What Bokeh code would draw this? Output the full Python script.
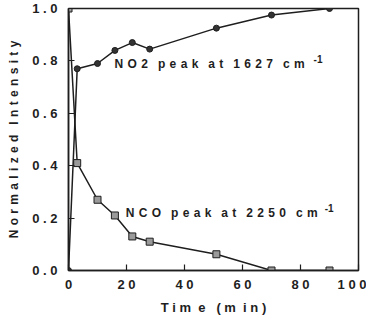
from bokeh.plotting import figure
from bokeh.models import Range1d, FixedTicker, Label
from bokeh.embed import file_html
from bokeh.resources import INLINE

# Data
no2_time = [0, 3, 10, 16, 22, 28, 51, 70, 90]
no2_val = [0.0, 0.77, 0.79, 0.84, 0.87, 0.845, 0.925, 0.975, 1.0]
nco_time = [0, 3, 10, 16, 22, 28, 51, 70, 90]
nco_val = [1.0, 0.41, 0.27, 0.21, 0.13, 0.11, 0.062, 0.0, 0.0]

x_ticks = [0, 20, 40, 60, 80, 100]
y_ticks = [0.0, 0.2, 0.4, 0.6, 0.8, 1.0]

H = "\u200a"   # hair space
S = "\u00a0"   # no-break space


def spaced(s, gap=S + H, word_gap=S * 3):
    return word_gap.join(gap.join(w) for w in s.split(" "))


x_tick_labels = {t: spaced(str(t), S) for t in x_ticks}
y_tick_labels = {v: spaced(f"{v:.1f}", S) for v in y_ticks}

no2_label = spaced("NO2 peak at 1627 cm")
nco_label = spaced("NCO peak at 2250 cm")
no2_label_pos = (15.9, 0.79)
nco_label_pos = (19.7, 0.22)

FONT = "Liberation Sans"
INK = "#1e1e1e"

p = figure(width=366, height=307, output_backend="svg", toolbar_location=None,
           x_range=Range1d(0, 100), y_range=Range1d(0, 1.0),
           min_border_left=68, min_border_right=8, min_border_top=8, min_border_bottom=37)
p.frame_width = 290
p.frame_height = 262

p.grid.visible = False
p.outline_line_color = INK
p.outline_line_width = 1.5
p.background_fill_color = "white"
p.border_fill_color = "white"

for ax in (p.xaxis[0], p.yaxis[0]):
    ax.axis_line_color = INK
    ax.axis_line_width = 1.5
    ax.major_tick_in = 6
    ax.major_tick_out = 0
    ax.major_tick_line_color = INK
    ax.major_tick_line_width = 1.2
    ax.minor_tick_line_color = None
    ax.major_label_text_font = FONT
    ax.major_label_text_font_style = "bold"
    ax.major_label_text_font_size = "13px"
    ax.major_label_text_color = INK
    ax.axis_label_text_font = FONT
    ax.axis_label_text_font_style = "bold"
    ax.axis_label_text_color = INK

p.xaxis.ticker = FixedTicker(ticks=x_ticks)
p.yaxis.ticker = FixedTicker(ticks=y_ticks)
p.xaxis.major_label_overrides = x_tick_labels
p.yaxis.major_label_overrides = y_tick_labels
p.xaxis.major_label_standoff = 6
p.yaxis.major_label_standoff = 11

p.xaxis.axis_label = "T" + S + "i" + S + "m" + S * 2 + "e" + S * 3 + "(" + S + "m" + S * 2 + "i" + S + "n" + S + ")"
p.xaxis.axis_label_text_font_size = "13px"
p.xaxis.axis_label_standoff = 5
p.yaxis.axis_label = spaced("Normalized Intensity")
p.yaxis.axis_label_text_font_size = "12px"
p.yaxis.axis_label_standoff = 8

# NO2 series (circles)
p.line(no2_time, no2_val, line_color=INK, line_width=1.5)
p.scatter(no2_time, no2_val, marker="circle", size=6, fill_color="#333333", line_color=INK)

# NCO series (squares)
p.line(nco_time, nco_val, line_color=INK, line_width=1.5)
p.scatter(nco_time, nco_val, marker="square", size=7, fill_color="#9a9a9a", line_color=INK)

for (lx, ly), txt, sup_dx in ((no2_label_pos, no2_label, 199), (nco_label_pos, nco_label, 199)):
    lab = Label(x=lx, y=ly, text=txt, text_font=FONT, text_font_style="bold",
                text_font_size="12px", text_color=INK, text_baseline="middle")
    p.add_layout(lab)
    sup = Label(x=lx, y=ly, x_offset=sup_dx, y_offset=5, text="-1", text_font=FONT,
                text_font_style="bold", text_font_size="10px", text_color=INK,
                text_baseline="middle")
    p.add_layout(sup)

open("out.html", "w").write(file_html(p, INLINE))
